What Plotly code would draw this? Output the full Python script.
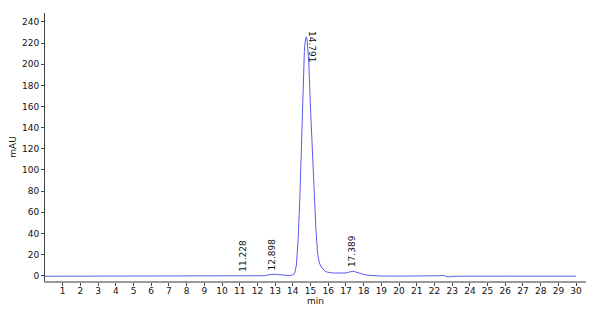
import plotly.graph_objects as go

# Chromatogram signal (min, mAU)
time_min = [0, 2, 4, 6, 8, 10, 11.0, 11.228, 11.5, 12.0, 12.4, 12.6, 12.8, 12.9, 13.0,
            13.2, 13.4, 13.6, 13.8, 14.0, 14.1, 14.2, 14.3, 14.4, 14.5, 14.6, 14.65,
            14.7, 14.76, 14.8, 14.85, 14.9, 15.0, 15.1, 15.2, 15.3, 15.4, 15.5, 15.6,
            15.7, 15.8, 15.9, 16.0, 16.2, 16.4, 16.7, 17.0, 17.15, 17.3, 17.4, 17.5,
            17.65, 17.8, 18.0, 18.3, 18.6, 19, 20, 21, 22, 22.3, 22.45, 22.6, 22.8,
            23.0, 23.3, 24, 26, 28, 30]
signal_mau = [-0.5, -0.5, -0.5, -0.5, -0.5, -0.5, -0.5, -0.3, -0.4, -0.3, 0.0, 0.8, 1.4,
              1.5, 1.4, 1.0, 0.6, 0.3, 0.2, 0.8, 2.0, 10, 35, 75, 140, 195, 212, 222,
              226, 224, 215, 202, 158, 118, 75, 45, 21, 12, 8.5, 6, 4.5, 3.6, 3.1, 2.7,
              2.5, 2.4, 2.6, 3.3, 4.1, 4.2, 3.8, 3.0, 2.0, 1.2, 0.4, 0.0, -0.3, -0.4,
              -0.4, -0.4, 0.0, 0.4, -0.2, -1.1, -0.6, -0.4, -0.4, -0.4, -0.4, -0.4]

# Peak labels
peak_times = [11.228, 12.898, 14.791, 17.389]
peak_heights = [-0.3, 1.5, 226, 4.2]
peak_labels = ["11.228", "12.898", "14.791", "17.389"]

x_ticks = list(range(1, 31))
y_ticks = list(range(0, 241, 20))

font = dict(family="DejaVu Sans", size=9, color="#111111")

fig = go.Figure()
fig.add_trace(go.Scatter(x=time_min, y=signal_mau, mode="lines",
                         line=dict(color="#5a5aee", width=1), showlegend=False,
                         hoverinfo="skip"))

annotations = []
for t, h, lab in zip(peak_times, peak_heights, peak_labels):
    if lab == "14.791":
        annotations.append(dict(x=t, y=h, text=lab, showarrow=False, textangle=90,
                                xanchor="center", yanchor="middle", xshift=5,
                                yshift=-10, font=font))
    else:
        annotations.append(dict(x=t, y=h, text=lab, showarrow=False, textangle=-90,
                                xanchor="center", yanchor="middle", xshift=-1,
                                yshift=20, font=font))

fig.update_layout(
    width=600, height=314,
    margin=dict(l=45, r=14, t=13, b=33),
    paper_bgcolor="white", plot_bgcolor="white",
    font=font,
    annotations=annotations,
    xaxis=dict(range=[0, 30.56], tickvals=x_ticks, ticktext=[str(v) for v in x_ticks],
               ticks="outside", ticklen=3, tickcolor="#444", showgrid=False,
               zeroline=False, showline=True, linecolor="#999", linewidth=2,
               automargin=False, ticklabelstandoff=-3,
               title=dict(text="min", font=font, standoff=0)),
    yaxis=dict(range=[-5, 248.5], tickvals=y_ticks, ticks="outside", ticklen=3,
               tickcolor="#444", showgrid=False, zeroline=False, showline=True,
               linecolor="#444", linewidth=1, automargin=False,
               title=dict(text="mAU", font=font, standoff=3)),
)

fig.write_html("out.html")
